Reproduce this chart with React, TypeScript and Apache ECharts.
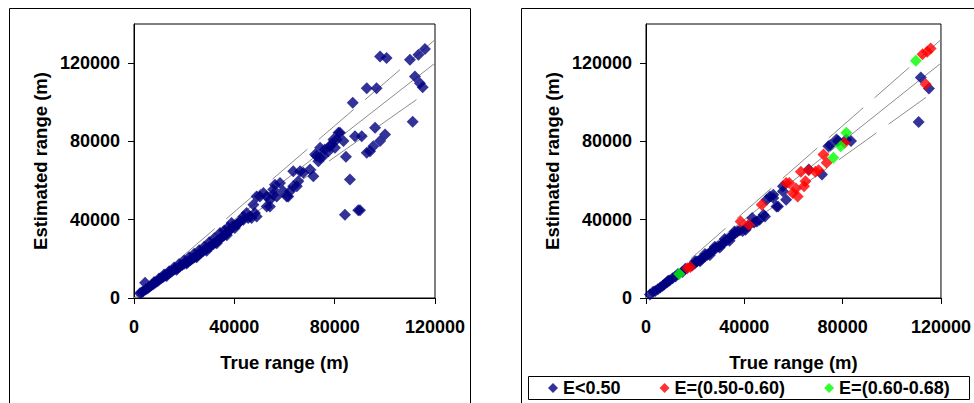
import React, { useEffect, useRef } from "react";
import * as echarts from "echarts";

const tickValues = [0, 40000, 80000, 120000];
const xAxisTitle = "True range (m)";
const yAxisTitle = "Estimated range (m)";
const legendNames = ["E<0.50", "E=(0.50-0.60)", "E=(0.60-0.68)"];
const legendColors = ["#000080", "#FF0000", "#00FF00"];

const midLine = [[0, 0], [120000, 120000]];
const upperLine = [[18300, 20130], [120000, 132000]];
const lowerLine = [[18000, 16200], [115000, 103500]];

// Left panel: all estimates
const allPoints = [
  [2400, 2400], [3000, 2800], [3600, 3300], [4400, 7800], [4700, 4400], [5500, 5000], [6200, 5800],
  [7000, 6500], [7800, 7200], [8000, 8200], [8600, 7900], [9400, 8600], [10000, 10000], [10200, 9400],
  [11000, 10200], [11700, 10900], [12000, 12000], [12500, 11500], [13000, 11200], [13300, 12200],
  [14000, 13700], [14200, 12900], [15000, 13500], [15800, 14300], [16000, 15600], [16600, 14900],
  [17000, 14400], [17500, 15500], [18000, 17400], [18300, 16100], [19200, 16900], [20000, 17500],
  [20000, 19200], [20900, 18100], [21000, 17600], [21700, 18600], [22000, 20800], [22600, 19400],
  [23400, 20200], [24000, 22600], [24200, 20800], [25000, 21500], [25000, 20800], [25800, 22300],
  [26000, 24400], [26600, 23000], [27500, 23800], [28000, 26200], [28300, 24600], [29000, 24200],
  [29100, 25400], [30000, 26000], [30000, 28500], [30800, 26800], [31600, 27500], [32000, 30500],
  [32500, 28400], [33000, 28000], [33300, 29300], [34100, 30200], [34300, 33200], [35000, 31100],
  [35800, 31800], [36000, 34500], [36600, 32700], [37000, 32000], [37400, 33700], [37500, 36000],
  [38300, 34900], [38900, 38300], [39600, 36600], [40200, 35800], [40900, 37400], [41500, 38300],
  [42300, 39100], [43600, 40000], [43600, 41700], [44900, 43400], [45500, 40900], [46200, 41700],
  [46900, 40900], [47600, 47700], [48200, 43400], [48900, 51900], [48900, 41700], [50200, 51900],
  [51600, 53700], [52900, 46800], [52900, 51900], [54200, 50200], [54200, 46800], [55500, 52800],
  [55500, 55400], [56200, 57900], [56900, 51900], [58200, 58800], [59500, 54500], [60900, 51900],
  [61500, 51900], [62200, 54500], [63500, 64800], [63500, 57100], [64900, 57100], [65500, 59600],
  [66200, 64800], [67500, 64000], [70200, 65600], [71500, 62200], [72200, 73300], [72800, 72500],
  [73500, 69900], [74200, 76800], [74200, 71600], [75500, 72500], [76100, 75900], [77500, 75000],
  [78100, 77600], [78800, 78500], [79500, 81000], [80100, 76800], [80800, 81000], [81500, 84400],
  [82100, 84400], [83500, 80200], [84500, 72200], [84100, 42600], [86100, 60500], [87200, 99800],
  [88100, 82700], [89400, 44800], [90100, 44800], [90800, 82700], [92800, 74200], [92800, 107200],
  [94100, 75000], [95400, 77600], [96100, 87000], [96700, 107200], [98100, 80200], [98100, 123400],
  [100100, 83600], [100700, 122600], [110000, 121700], [111100, 90100], [112000, 113200],
  [113400, 124300], [114000, 109700], [115100, 107700], [116000, 127200],
];

// Right panel: by E class
const lowE = [
  [1600, 1800], [2900, 3200], [3800, 3600], [4800, 4500], [5800, 5400], [6800, 6300], [7500, 7000],
  [8500, 7900], [9000, 8800], [9600, 8900], [10800, 10100], [12000, 11000], [13000, 12200],
  [14800, 13300], [16000, 15000], [18800, 16600], [19800, 17600], [20000, 18800], [20700, 18600],
  [21800, 19300], [22000, 18800], [22800, 20000], [24000, 21200], [24000, 22500], [25000, 22100],
  [26000, 22000], [26200, 23300], [27300, 24600], [28000, 26200], [28300, 25300], [29400, 26300],
  [30000, 25800], [30600, 27200], [31700, 28400], [32000, 30200], [32800, 29400], [33900, 30600],
  [34000, 29200], [35000, 31800], [36000, 34000], [36100, 32800], [37200, 34000], [38200, 34600],
  [39300, 34200], [40500, 34900], [41500, 36600], [43200, 40900], [44000, 38600], [45100, 39100],
  [46200, 40000], [47800, 42600], [48400, 41700], [49100, 50200], [50400, 51900], [51800, 52800],
  [51800, 51100], [53100, 46800], [53700, 46800], [55700, 54500], [55700, 57100], [57000, 50200],
  [66200, 65600], [71600, 63100], [74200, 77600], [75000, 78200], [77500, 81000], [78100, 80200],
  [81500, 81000], [83400, 80200], [110900, 89900], [111800, 112700], [115100, 107000],
];
const midE = [
  [16800, 15200], [18000, 15800], [38500, 39100], [41800, 37400], [47100, 47700], [57000, 58800],
  [58300, 58800], [59700, 53700], [61000, 55900], [61700, 51900], [63000, 64500], [64300, 57100],
  [64900, 59600], [66200, 65300], [68900, 64500], [70200, 65300], [72200, 73300], [73500, 69100],
  [80800, 79300], [113800, 109200], [112500, 124600], [114400, 125800], [115800, 127500],
];
const highE = [
  [13500, 12300], [76200, 71600], [79200, 77600], [81500, 84400], [109800, 121200],
];

const FONT = 'Arial, "Liberation Sans", sans-serif';

function axisPair(gridIndex: number) {
  const label = { fontFamily: FONT, fontWeight: "bold" as const, fontSize: 18, color: "#000" };
  const nameStyle = { ...label, fontSize: 18.5 };
  const fmt = (v: number) => String(v);
  return {
    x: {
      type: "value", gridIndex, min: 0, max: 120000, interval: 40000,
      name: xAxisTitle, nameLocation: "middle", nameGap: 55,
      nameTextStyle: nameStyle,
      axisLine: { show: true, lineStyle: { color: "#000", width: 1 } },
      axisTick: { show: true, inside: false, length: 6, lineStyle: { color: "#000" }, customValues: tickValues },
      axisLabel: { ...label, margin: 20, customValues: tickValues, formatter: fmt },
      splitLine: { show: false },
    },
    y: {
      type: "value", gridIndex, min: 0, max: 140000, interval: 40000,
      name: yAxisTitle, nameLocation: "middle", nameGap: 84, nameRotate: 90,
      nameTextStyle: nameStyle,
      axisLine: { show: true, lineStyle: { color: "#000", width: 1 } },
      axisTick: { show: true, inside: false, length: 6, lineStyle: { color: "#000" }, customValues: tickValues },
      axisLabel: { ...label, margin: 14, customValues: tickValues, formatter: fmt },
      splitLine: { show: false },
    },
  };
}

function refLines(idx: number) {
  const base = { type: "line", xAxisIndex: idx, yAxisIndex: idx, showSymbol: false, symbol: "none", silent: true, z: 1 };
  return [
    { ...base, name: "mid" + idx, data: midLine, lineStyle: { color: "#8c8c8c", width: 1 } },
    { ...base, name: "up" + idx, data: upperLine, lineStyle: { color: "#8c8c8c", width: 1, type: [46, 15] } },
    { ...base, name: "low" + idx, data: lowerLine, lineStyle: { color: "#8c8c8c", width: 1, type: [46, 15] } },
  ];
}

export default function App() {
  const ref = useRef<HTMLDivElement>(null);
  useEffect(() => {
    if (!ref.current) return;
    const chart = echarts.init(ref.current, null, { renderer: "svg" });
    const a0 = axisPair(0);
    const a1 = axisPair(1);
    const scatterBase = { type: "scatter", symbol: "diamond", symbolSize: 12, z: 3 };
    chart.setOption({
      animation: false,
      backgroundColor: "#fff",
      grid: [
        { left: 134, top: 24, width: 301, height: 274, show: true, borderColor: "#000", borderWidth: 1, backgroundColor: "#fff" },
        { left: 646, top: 24, width: 303, height: 274, show: true, borderColor: "#000", borderWidth: 1, backgroundColor: "#fff" },
      ],
      xAxis: [a0.x, a1.x],
      yAxis: [a0.y, a1.y],
      legend: {
        data: legendNames.map((n) => ({ name: n, icon: "diamond" })),
        left: 548, top: 379, padding: 0,
        itemWidth: 10, itemHeight: 10, itemGap: 39,
        textStyle: { fontFamily: FONT, fontWeight: "bold", fontSize: 18, color: "#000" },
        selectedMode: false,
      },
      graphic: [
        { type: "rect", shape: { x: 9.5, y: 8.5, width: 461, height: 420 }, style: { fill: "none", stroke: "#000", lineWidth: 1 }, silent: true, z: -1 },
        { type: "rect", shape: { x: 521.5, y: 8.5, width: 480, height: 420 }, style: { fill: "none", stroke: "#000", lineWidth: 1 }, silent: true, z: -1 },
        { type: "rect", shape: { x: 528.5, y: 376.5, width: 441, height: 23 }, style: { fill: "#fff", stroke: "#000", lineWidth: 1 }, silent: true, z: 0 },
      ],
      series: [
        ...refLines(0),
        ...refLines(1),
        { ...scatterBase, name: "All", xAxisIndex: 0, yAxisIndex: 0, data: allPoints, itemStyle: { color: legendColors[0] } },
        { ...scatterBase, name: legendNames[0], xAxisIndex: 1, yAxisIndex: 1, data: lowE, itemStyle: { color: legendColors[0] } },
        { ...scatterBase, name: legendNames[1], xAxisIndex: 1, yAxisIndex: 1, data: midE, itemStyle: { color: legendColors[1] } },
        { ...scatterBase, name: legendNames[2], xAxisIndex: 1, yAxisIndex: 1, data: highE, itemStyle: { color: legendColors[2] } },
      ],
    });
    return () => chart.dispose();
  }, []);
  return <div ref={ref} style={{ position: "fixed", left: 0, top: 0, width: 974, height: 403 }} />;
}
